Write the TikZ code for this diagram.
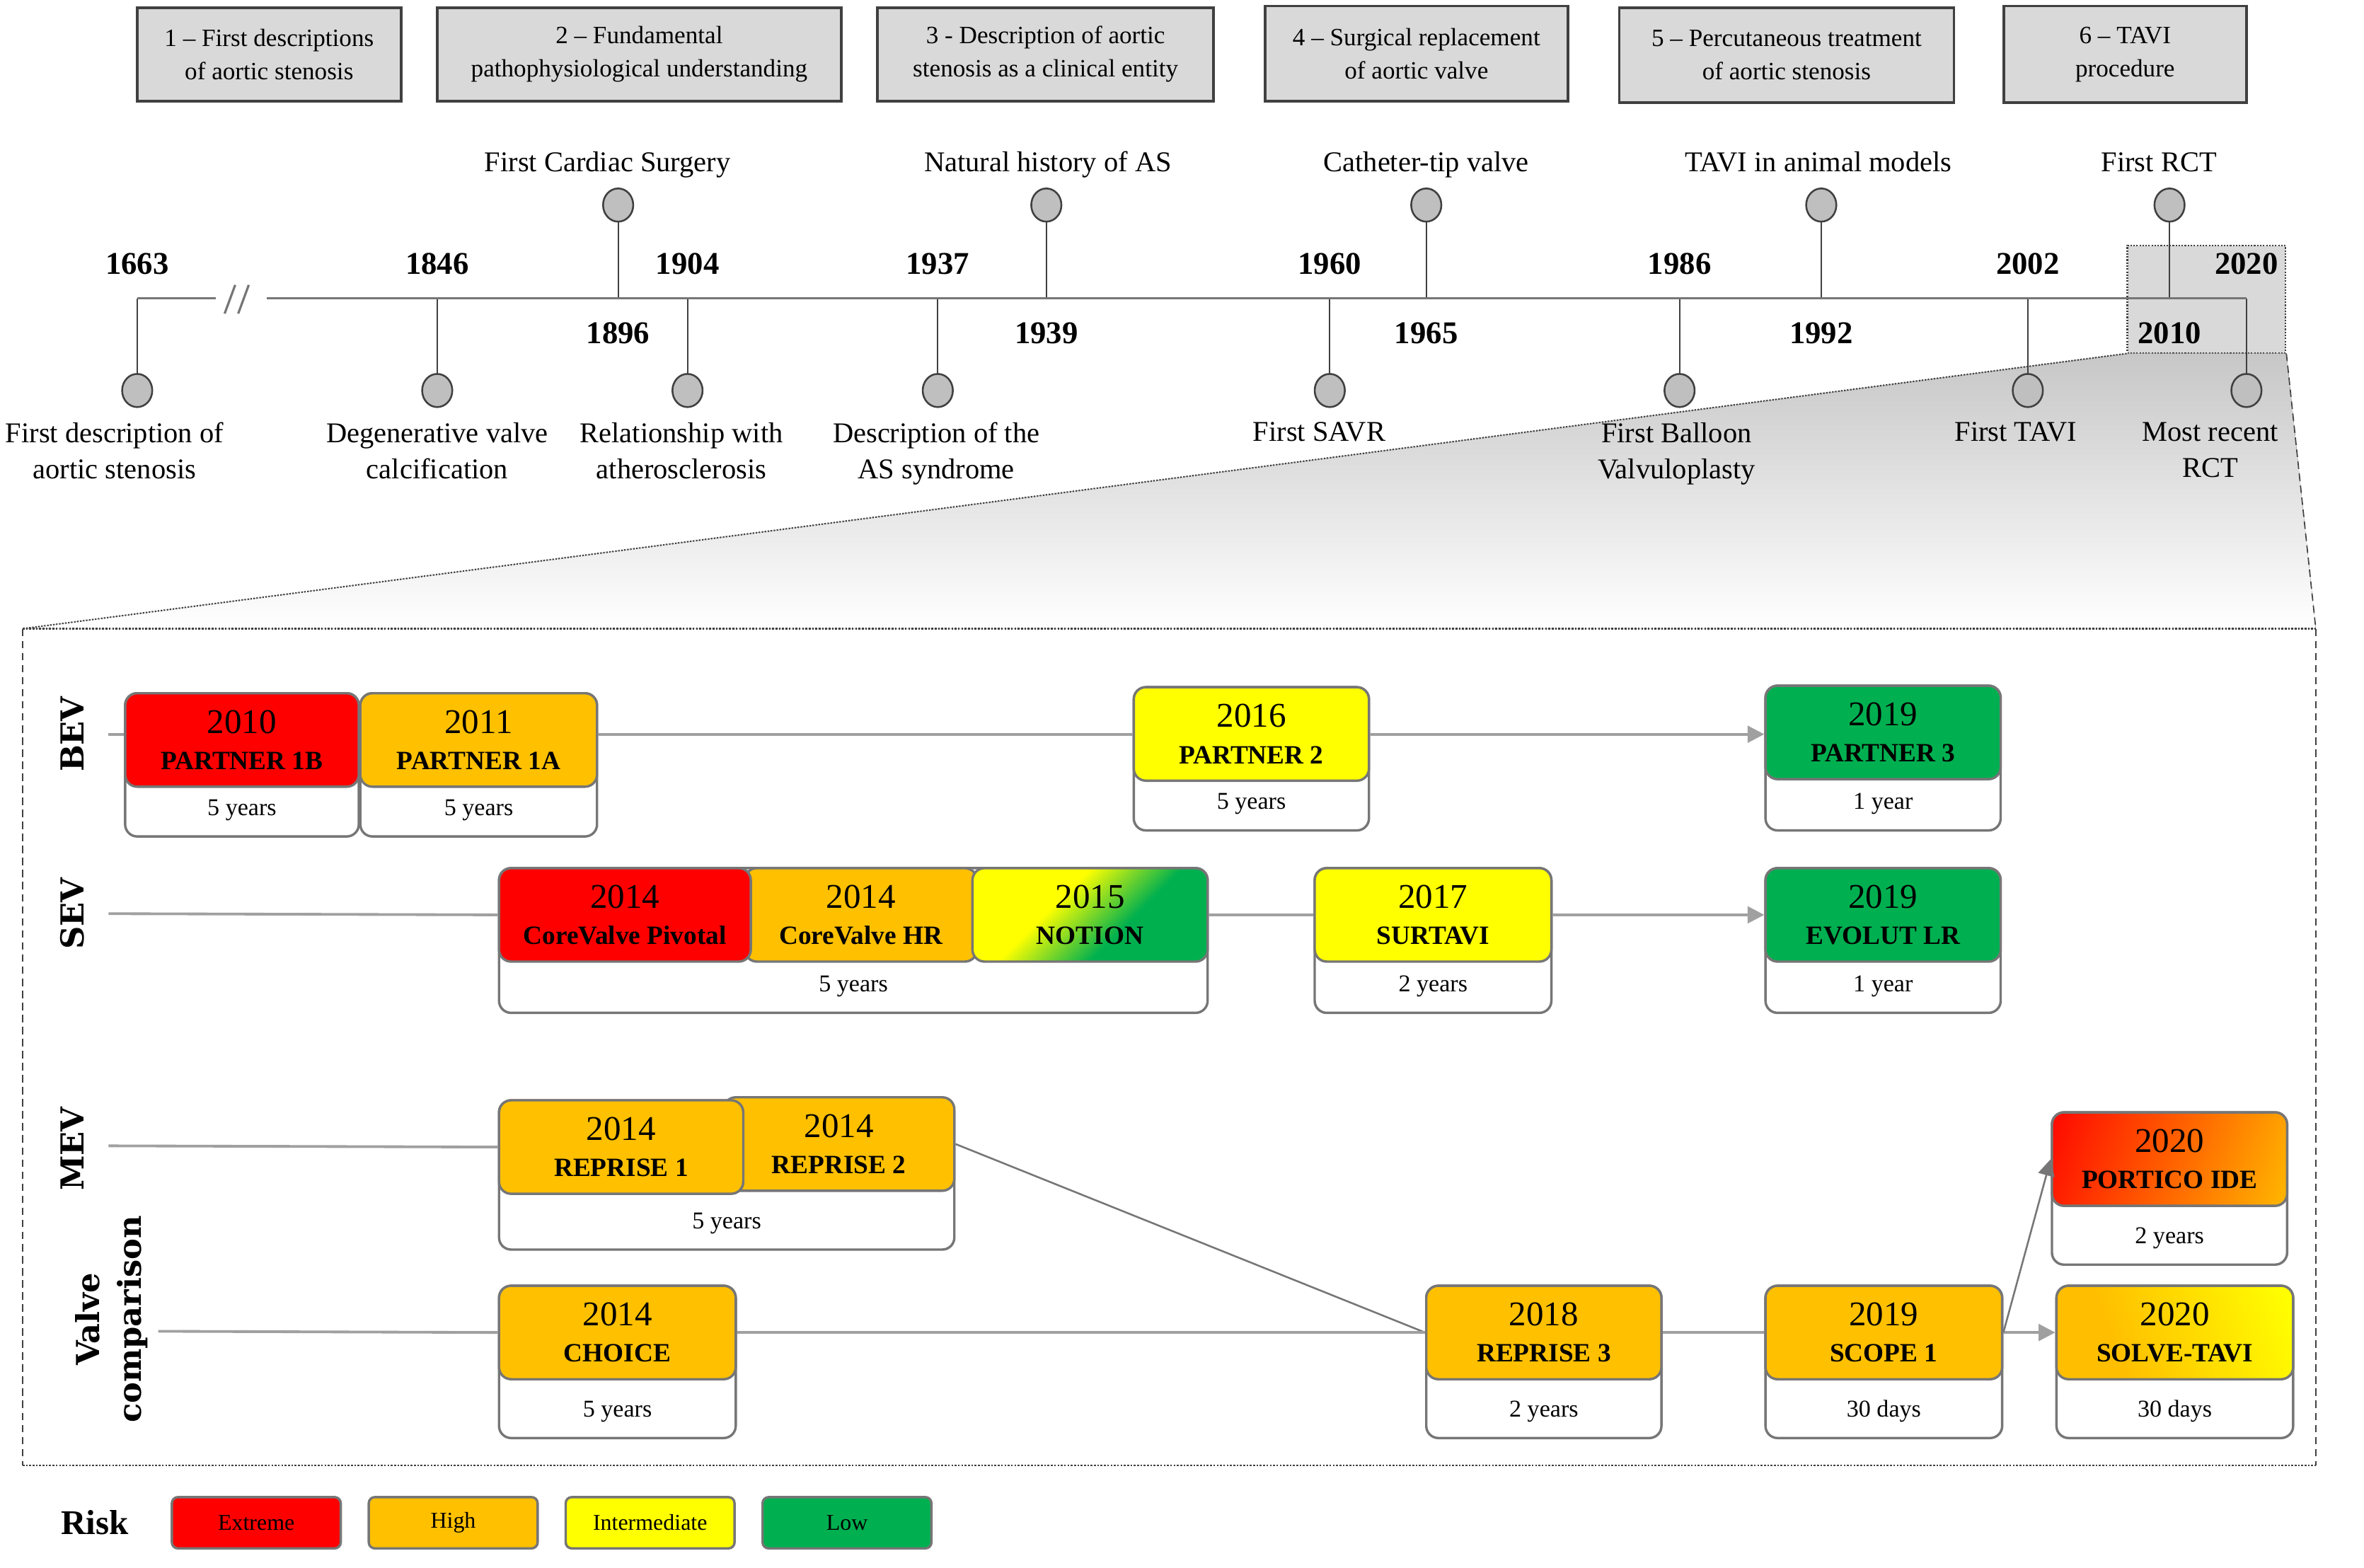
\documentclass[tikz,border=0pt]{standalone}
\usepackage{fontspec}
\setmainfont{Liberation Serif}
\newfontfamily\lanefont{DejaVu Serif}
\usetikzlibrary{arrows.meta,positioning,shapes.geometric}

\definecolor{riskred}{HTML}{FF0000}
\definecolor{riskorange}{HTML}{FFC000}
\definecolor{riskyellow}{HTML}{FFFF00}
\definecolor{riskgreen}{HTML}{00B050}
\definecolor{boxline}{HTML}{767676}
\definecolor{lanegray}{HTML}{A0A0A0}
\definecolor{phasegray}{HTML}{D9D9D9}
\definecolor{darkline}{HTML}{404040}

\pgfdeclareverticalshading{notionshade}{100bp}{rgb(0bp)=(0,0.69,0.31); rgb(40bp)=(0,0.69,0.31); rgb(60bp)=(1,1,0); rgb(100bp)=(1,1,0)}
\pgfdeclarehorizontalshading{solveshade}{100bp}{rgb(0bp)=(1,0.75,0); rgb(35bp)=(1,0.75,0); rgb(80bp)=(1,1,0); rgb(100bp)=(1,1,0)}
\pgfdeclarehorizontalshading{porticoshade}{100bp}{rgb(0bp)=(1,0,0); rgb(15bp)=(1,0,0); rgb(85bp)=(1,0.75,0); rgb(100bp)=(1,0.75,0)}

\newcommand{\trialname}[1]{{\bfseries\fontsize{17.5}{24}\selectfont #1}}

\tikzset{
  phase/.style={draw=darkline, line width=1.8pt, fill=phasegray, inner sep=0pt, align=center, font=\fontsize{16.5}{22}\selectfont},
  dot/.style={ellipse, draw=darkline, line width=1.2pt, fill=black!25, minimum width=20pt, minimum height=22pt, inner sep=0pt},
  stem/.style={draw=darkline, line width=1pt},
  axisline/.style={draw=boxline, line width=1.5pt},
  yearlab/.style={anchor=base, inner sep=0pt, font=\bfseries\fontsize{21}{24}\selectfont},
  evlab/.style={inner sep=0pt, align=center, font=\fontsize{19}{24}\selectfont},
  zoombox/.style={draw=darkline, densely dotted, line width=1pt, fill=phasegray, minimum width=105pt, minimum height=71pt, inner sep=0pt},
  lanelab/.style={rotate=90, inner sep=0pt, align=center, font=\lanefont\bfseries\fontsize{21}{28}\selectfont},
  lane/.style={draw=lanegray, line width=1.8pt},
  link/.style={draw=boxline, line width=1.2pt},
  arr/.style={-{Triangle[length=11pt,width=11pt]}},
  trial/.style={rounded corners=8pt, draw=boxline, line width=1.6pt, minimum height=62pt, inner sep=0pt, align=center, anchor=north, font=\fontsize{23}{24}\selectfont},
  dur/.style={rounded corners=8pt, draw=boxline, line width=1.6pt, fill=white, inner sep=0pt, anchor=north, text height=#1, text depth=14pt, font=\fontsize{16}{18}\selectfont},
  key/.style={rounded corners=4pt, draw=boxline, line width=1.6pt, minimum width=112pt, minimum height=34pt, inner sep=0pt, font=\fontsize{15}{17}\selectfont},
  risklab/.style={inner sep=0pt, font=\bfseries\fontsize{23}{26}\selectfont}
}

\begin{document}
\begin{tikzpicture}[x=1pt, y=-1pt]
    \useasboundingbox (0,0) rectangle (1568,1040);
    \node[phase, minimum width=175pt, minimum height=62pt] (ph1) at (178.5,36) {1 -- First descriptions\\of aortic stenosis};
    \node[phase, minimum width=268pt, minimum height=62pt] (ph2) at (424,36) {2 -- Fundamental\\pathophysiological understanding};
    \node[phase, minimum width=223pt, minimum height=62pt] (ph3) at (693.5,36) {3 - Description of aortic\\stenosis as a clinical entity};
    \node[phase, minimum width=201pt, minimum height=63pt] (ph4) at (939.5,35.5) {4 -- Surgical replacement\\of aortic valve};
    \node[phase, minimum width=222pt, minimum height=63pt] (ph5) at (1185,36.5) {5 -- Percutaneous treatment\\of aortic stenosis};
    \node[phase, minimum width=161pt, minimum height=64pt] (ph6) at (1409.5,36) {6 -- TAVI\\procedure};
    \node[zoombox] (zoom) at (1463.5,198.5) {};
    \coordinate (bx1) at (15,417);
    \coordinate (bx2) at (1536,417);
    \coordinate (bx3) at (1536,972);
    \coordinate (bx4) at (15,972);
    \fill[top color=black!22, bottom color=white] (zoom.south west) -- (zoom.south east) -- (bx2) -- (bx1) -- cycle;
    \draw[darkline, densely dotted, line width=1pt] (zoom.south west) -- (bx1);
    \draw[darkline, dash pattern=on 5pt off 3pt, line width=0.8pt] (zoom.south east) -- (bx2);
    \draw[darkline, densely dotted, line width=1.2pt] (bx1) -- (bx2) (bx4) -- (bx3);
    \draw[darkline, dash pattern=on 5pt off 3pt, line width=0.8pt] (bx1) -- (bx4) (bx2) -- (bx3);
    \foreach \x/\lx/\yr/\s/\txt in {
        91/76/1663/1/{First description of\\aortic stenosis},
        290/290/1846/1/{Degenerative valve\\calcification},
        410/403/1896/-1/{First Cardiac Surgery},
        456/452/1904/1/{Relationship with\\atherosclerosis},
        622/621/1937/1/{Description of the\\AS syndrome},
        694/695/1939/-1/{Natural history of AS},
        882/875/1960/1/{First SAVR},
        946/946/1965/-1/{Catheter-tip valve},
        1114/1112/1986/1/{First Balloon\\Valvuloplasty},
        1208/1206/1992/-1/{TAVI in animal models},
        1345/1337/2002/1/{First TAVI},
        1439/1432/2010/-1/{First RCT},
        1490/1466/2020/1/{Most recent\\RCT}}{
        \coordinate (a\yr) at (\x,198);
        \ifnum\s=1
            \node[dot] (c\yr) at (\x,259) {};
            \node[yearlab] (y\yr) at (\x,182) {\yr};
            \node[evlab, anchor=north] (l\yr) at (\lx,280) {\txt};
        \else
            \node[dot] (c\yr) at (\x,136) {};
            \node[yearlab] (y\yr) at (\x,228) {\yr};
            \node[evlab, anchor=base] (l\yr) at (\lx,114) {\txt};
        \fi
        \draw[stem] (a\yr) -- (c\yr);
    }
    \coordinate (brk1) at (143,198);
    \coordinate (brk2) at (177,198);
    \draw[axisline] (a1663) -- (brk1) (brk2) -- (a2020);
    \draw[axisline] (149,208) -- (156,189) (158,208) -- (165,189);
    \node[lanelab] (bev) at (48,487) {BEV};
    \node[lanelab] (sev) at (48,606) {SEV};
    \node[lanelab] (mev) at (48,762) {MEV};
    \node[lanelab] (vcl) at (74,875) {Valve\\comparison};
    \node[dur=81pt, minimum width=155pt] (p1bd) at (160.5,459) {5 years};
    \node[trial, fill=riskred, minimum width=155pt] (p1b) at (160.5,459) {2010\\\trialname{PARTNER 1B}};
    \node[dur=81pt, minimum width=157pt] (p1ad) at (317.5,459) {5 years};
    \node[trial, fill=riskorange, minimum width=157pt] (p1a) at (317.5,459) {2011\\\trialname{PARTNER 1A}};
    \node[dur=81pt, minimum width=156pt] (p2d) at (830,455) {5 years};
    \node[trial, fill=riskyellow, minimum width=156pt] (p2) at (830,455) {2016\\\trialname{PARTNER 2}};
    \node[dur=82pt, minimum width=156pt] (p3d) at (1249,454) {1 year};
    \node[trial, fill=riskgreen, minimum width=156pt] (p3) at (1249,454) {2019\\\trialname{PARTNER 3}};
    \node[dur=82pt, minimum width=470pt] (sevd) at (566,575) {5 years};
    \node[trial, fill=riskorange, minimum width=154pt] (cvhr) at (571,575) {2014\\\trialname{CoreValve HR}};
    \node[trial, fill=riskred, minimum width=167pt] (cvp) at (414.5,575) {2014\\\trialname{CoreValve Pivotal}};
    \node[trial, shade, shading=notionshade, shading angle=45, minimum width=156pt] (notion) at (723,575) {2015\\\trialname{NOTION}};
    \node[dur=82pt, minimum width=157pt] (surtavid) at (950.5,575) {2 years};
    \node[trial, fill=riskyellow, minimum width=157pt] (surtavi) at (950.5,575) {2017\\\trialname{SURTAVI}};
    \node[dur=82pt, minimum width=156pt] (evlrd) at (1249,575) {1 year};
    \node[trial, fill=riskgreen, minimum width=156pt] (evlr) at (1249,575) {2019\\\trialname{EVOLUT LR}};
    \node[dur=85pt, minimum width=302pt] (mevd) at (482,729) {5 years};
    \node[trial, fill=riskorange, minimum width=153pt] (rep2) at (556.5,727) {2014\\\trialname{REPRISE 2}};
    \node[trial, fill=riskorange, minimum width=162pt] (rep1) at (412,729) {2014\\\trialname{REPRISE 1}};
    \node[dur=87pt, minimum width=157pt] (choiced) at (409.5,852) {5 years};
    \node[trial, fill=riskorange, minimum width=157pt] (choice) at (409.5,852) {2014\\\trialname{CHOICE}};
    \node[dur=87pt, minimum width=156pt] (rep3d) at (1024,852) {2 years};
    \node[trial, fill=riskorange, minimum width=156pt] (rep3) at (1024,852) {2018\\\trialname{REPRISE 3}};
    \node[dur=87pt, minimum width=157pt] (scoped) at (1249.5,852) {30 days};
    \node[trial, fill=riskorange, minimum width=157pt] (scope) at (1249.5,852) {2019\\\trialname{SCOPE 1}};
    \node[dur=87pt, minimum width=157pt] (solved) at (1442.5,852) {30 days};
    \node[trial, shade, shading=solveshade, shading angle=20, minimum width=157pt] (solve) at (1442.5,852) {2020\\\trialname{SOLVE-TAVI}};
    \node[dur=87pt, minimum width=156pt] (porticod) at (1439,737) {2 years};
    \node[trial, shade, shading=porticoshade, shading angle=-20, minimum width=156pt] (portico) at (1439,737) {2020\\\trialname{PORTICO IDE}};
    \coordinate (bevs) at (72,487);
    \coordinate (sevs) at (72,606);
    \coordinate (mevs) at (72,760);
    \coordinate (vcs) at (105,883);
    \draw[lane] (bevs) -- (p1b.west |- bevs);
    \draw[lane] (p1a.east |- bevs) -- (p2.west |- bevs);
    \draw[lane, arr] (p2.east |- bevs) -- (p3.west |- bevs);
    \draw[lane] (sevs) -- (cvp.west);
    \draw[lane] (notion.east) -- (surtavi.west);
    \draw[lane, arr] (surtavi.east) -- (evlr.west);
    \draw[lane] (mevs) -- (rep1.west);
    \draw[link] (rep2.east) -- (rep3.west);
    \draw[lane] (vcs) -- (choice.west);
    \draw[lane] (choice.east) -- (rep3.west);
    \draw[lane] (rep3.east) -- (scope.west);
    \draw[lane, arr] (scope.east) -- (solve.west);
    \draw[link, arr] (scope.east) -- (portico.west);
    \node[risklab] (risk) at (63,1010) {Risk};
    \node[key, fill=riskred] (kext) at (170,1010) {Extreme};
    \node[key, fill=riskorange, right=17pt of kext] (khigh) {High};
    \node[key, fill=riskyellow, right=17pt of khigh] (kint) {Intermediate};
    \node[key, fill=riskgreen, right=17pt of kint] (klow) {Low};
\end{tikzpicture}
\end{document}
